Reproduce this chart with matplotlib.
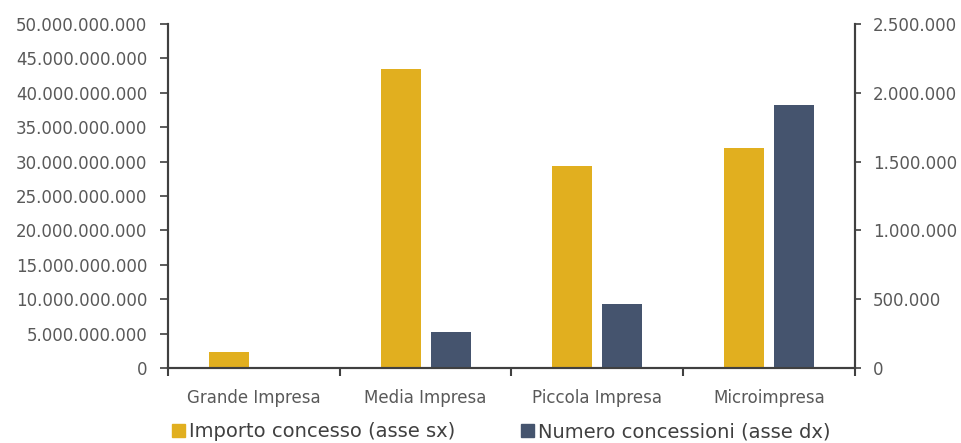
import matplotlib
matplotlib.use('Agg')
import matplotlib.pyplot as plt
import matplotlib.patches as mpatches
from matplotlib.ticker import FuncFormatter, FixedLocator
import numpy as np

categories = ['Grande Impresa', 'Media Impresa', 'Piccola Impresa', 'Microimpresa']
importo = [2.37e9, 43.5e9, 29.4e9, 32.0e9]          # asse sx
concessioni = [3000, 264000, 465000, 1911000]        # asse dx

yellow = '#E1AF1F'
navy = '#45546E'
txt = '#595959'
axcol = '#404040'

def dot_fmt(v, pos):
    return f'{v:,.0f}'.replace(',', '.')

fig = plt.figure(figsize=(9.62, 4.43), dpi=100)
ax = fig.add_axes([0.1746, 0.1693, 0.8888 - 0.1746, 0.9458 - 0.1693])
ax2 = ax.twinx()

x = np.arange(len(categories))
width = 0.233
off = 0.145
ax.bar(x - off, importo, width, color=yellow, zorder=2)
ax2.bar(x + off, concessioni, width, color=navy, zorder=2)

ax.set_xlim(-0.5, 3.5)
ax.set_ylim(0, 50e9)
ax2.set_ylim(0, 2.5e6)
ax.set_yticks(np.arange(0, 50e9 + 1, 5e9))
ax2.set_yticks(np.arange(0, 2.5e6 + 1, 5e5))
ax.yaxis.set_major_formatter(FuncFormatter(dot_fmt))
ax2.yaxis.set_major_formatter(FuncFormatter(dot_fmt))

# category boundaries as ticks, labels at centres
ax.xaxis.set_major_locator(FixedLocator([-0.5, 0.5, 1.5, 2.5, 3.5]))
ax.set_xticklabels([])
ax.xaxis.set_minor_locator(FixedLocator(x))
ax.set_xticklabels(categories, minor=True)
ax.tick_params(axis='x', which='minor', length=0, pad=15, labelsize=12, labelcolor=txt)
ax.tick_params(axis='x', which='major', length=6, width=1.5, color=axcol, direction='out')

ax.tick_params(axis='y', length=6, width=1.2, color=axcol, labelsize=12, labelcolor=txt, pad=9)
ax2.tick_params(axis='y', length=4, width=1.2, color=axcol, labelsize=12, labelcolor=txt, pad=9)

for a in (ax, ax2):
    a.spines['top'].set_visible(False)
    for s in ('left', 'right', 'bottom'):
        a.spines[s].set_color(axcol)
        a.spines[s].set_linewidth(1.5)

handles = [mpatches.Patch(color=yellow, label='Importo concesso (asse sx)'),
           mpatches.Patch(color=navy, label='Numero concessioni (asse dx)')]
leg = fig.legend(handles=handles, loc='center', bbox_to_anchor=(0.521, 0.025), ncol=2,
                 frameon=False, fontsize=14, handlelength=0.67, handleheight=0.67,
                 handletextpad=0.2, columnspacing=3.4, borderaxespad=0, borderpad=0)
for t in leg.get_texts():
    t.set_color(axcol)

fig.savefig('out.png', dpi=100)
